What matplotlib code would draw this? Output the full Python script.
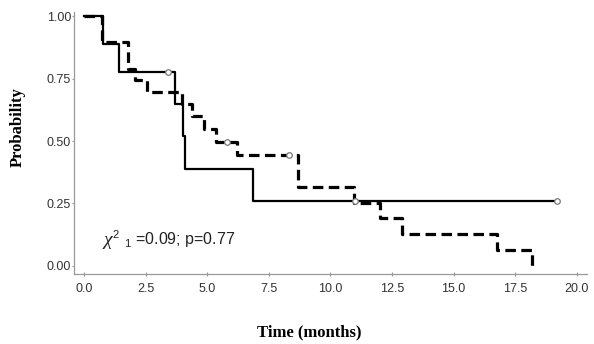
import matplotlib
matplotlib.use('Agg')
import matplotlib.pyplot as plt
import numpy as np

# Kaplan-Meier curves (time in months, survival probability)
solid_t = [0, 0.78, 1.40, 3.70, 4.02, 4.10, 6.86, 19.2]
solid_s = [1.0, 0.889, 0.778, 0.648, 0.519, 0.389, 0.259, 0.259]
dash_t = [0, 0.72, 1.80, 2.07, 2.55, 3.97, 4.37, 4.85, 5.37, 6.20, 8.70, 10.94, 12.0, 12.9, 16.75, 18.2]
dash_s = [1.0, 0.895, 0.79, 0.745, 0.697, 0.650, 0.600, 0.548, 0.497, 0.443, 0.315, 0.253, 0.190, 0.127, 0.063, 0.0]

# censored observations
solid_cens_t = [3.4, 11.0, 19.2]
solid_cens_s = [0.778, 0.259, 0.259]
dash_cens_t = [5.8, 8.33]
dash_cens_s = [0.497, 0.443]

x_ticks = np.arange(0, 20.1, 2.5)
y_ticks = [0.0, 0.25, 0.5, 0.75, 1.0]
stat_rest = r'${}^{2}\ {}_{1}$ =0.09; p=0.77'

plt.rcParams['font.family'] = ['Liberation Sans', 'DejaVu Sans']
plt.rcParams['mathtext.default'] = 'regular'

fig = plt.figure(figsize=(5.94, 3.44), dpi=100)
ax = fig.add_axes([0.1246, 0.2035, 0.8636, 0.7616])

ax.step(solid_t, solid_s, where='post', color='black', lw=1.6)
ax.step(dash_t, dash_s, where='post', color='black', lw=2.3, linestyle=(0, (3.3, 1.7)))
ax.plot(solid_cens_t, solid_cens_s, 'o', ms=4, mfc='white', mec='#777777', mew=0.9, zorder=5)
ax.plot(dash_cens_t, dash_cens_s, 'o', ms=4, mfc='white', mec='#777777', mew=0.9, zorder=5)

# chi symbol bigger and serif, rest of the statistic right after it
chi = ax.text(0.77, 0.084, '\u03c7', family='Liberation Serif', style='italic',
              fontsize=14, color='#222222', va='baseline')
ax.annotate(stat_rest, xy=(1.0, 0.084), xycoords=(chi, 'data'), fontsize=11.5,
            color='#222222', va='baseline')

ax.set_xlim(-0.41, 20.42)
ax.set_ylim(-0.032, 1.016)
ax.set_xticks(x_ticks)
ax.set_xticklabels(['%.1f' % v for v in x_ticks])
ax.set_yticks(y_ticks)
ax.set_yticklabels(['%.2f' % v for v in y_ticks])

for side in ['top', 'right']:
    ax.spines[side].set_visible(False)
for side in ['left', 'bottom']:
    ax.spines[side].set_color('#999999')
    ax.spines[side].set_linewidth(0.9)
ax.tick_params(axis='x', direction='inout', length=3, color='#999999', labelsize=9, labelcolor='#333333', pad=5)
ax.tick_params(axis='y', direction='out', length=1.5, color='#999999', labelsize=9, labelcolor='#333333', pad=0.5)

fig.text(0.520, 0.035, 'Time (months)', family='Liberation Serif', weight='bold', fontsize=12, ha='center', va='center')
fig.text(0.030, 0.631, 'Probability', family='Liberation Serif', weight='bold', fontsize=12, rotation=90, ha='center', va='center')

fig.savefig('out.png', dpi=100)
